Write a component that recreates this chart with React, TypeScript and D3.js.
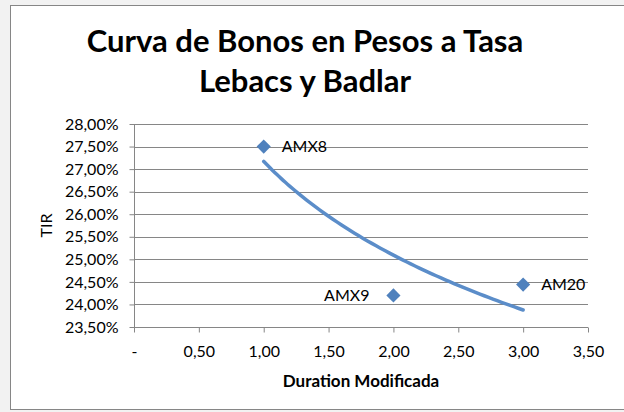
import { useRef, useEffect } from 'react'
import * as d3 from 'd3'

const bonds = ['AMX8', 'AMX9', 'AM20']
const duration = [1.0, 2.0, 3.0]
const tir = [27.5, 24.2, 24.44]
const labelSide = ['right', 'left', 'right']
const xTicks = [0, 0.5, 1, 1.5, 2, 2.5, 3, 3.5]
const yTicks = [23.5, 24, 24.5, 25, 25.5, 26, 26.5, 27, 27.5, 28]

const FONT = 'Lato, "Open Sans", sans-serif'
const BLUE = '#4f81bd'
const GRID = '#868686'

const fmt = (v: number, digits = 2) => v.toFixed(digits).replace('.', ',')

export default function App() {
  const ref = useRef<SVGSVGElement>(null)

  useEffect(() => {
    if (!ref.current) return
    const svg = d3.select(ref.current)
    svg.selectAll('*').remove()
    const width = 624
    const height = 412
    const m = { left: 134, right: 588, top: 124, bottom: 327 }

    svg.attr('width', width).attr('height', height)
    svg.append('rect').attr('width', width).attr('height', height).attr('fill', '#f2f2f2')
    svg.append('rect')
      .attr('x', 10.5).attr('y', 5.5)
      .attr('width', 640).attr('height', 404)
      .attr('fill', '#fff').attr('stroke', GRID).attr('stroke-width', 1)

    const x = d3.scaleLinear().domain([0, 3.5]).range([m.left, m.right])
    const y = d3.scaleLinear().domain([23.5, 28]).range([m.bottom, m.top])

    // title
    const title = svg.append('text')
      .attr('text-anchor', 'middle')
      .attr('font-family', FONT)
      .attr('font-weight', 'bold')
      .attr('font-size', 31)
      .attr('fill', '#000')
    title.append('tspan').attr('x', 305).attr('y', 52).text('Curva de Bonos en Pesos a Tasa')
    title.append('tspan').attr('x', 305).attr('y', 92).text('Lebacs y Badlar')

    // gridlines
    svg.append('g')
      .selectAll('line')
      .data(yTicks.slice(1))
      .enter()
      .append('line')
      .attr('x1', m.left).attr('x2', m.right)
      .attr('y1', d => Math.round(y(d)) + 0.5).attr('y2', d => Math.round(y(d)) + 0.5)
      .attr('stroke', GRID).attr('stroke-width', 1)

    // y axis
    const yAxis = svg.append('g')
      .attr('transform', `translate(${m.left + 0.5},0)`)
      .call(
        d3.axisLeft(y)
          .tickValues(yTicks)
          .tickSize(5)
          .tickPadding(11)
          .tickFormat(d => `${fmt(d as number)}%`)
      )
    yAxis.select('.domain').attr('stroke', GRID).attr('d', `M0,${m.top}V${m.bottom}`)
    yAxis.selectAll('.tick line').attr('stroke', GRID)
    yAxis.selectAll('.tick text')
      .attr('font-family', FONT).attr('font-size', 16).attr('fill', '#000')

    // x axis
    const xAxis = svg.append('g')
      .attr('transform', `translate(0,${m.bottom + 0.5})`)
      .call(
        d3.axisBottom(x)
          .tickValues(xTicks)
          .tickSize(5)
          .tickPadding(13)
          .tickFormat(d => ((d as number) === 0 ? '-' : fmt(d as number)))
      )
    xAxis.select('.domain').attr('stroke', GRID).attr('d', `M${m.left},0H${m.right}`)
    xAxis.selectAll('.tick line').attr('stroke', GRID)
    xAxis.selectAll('.tick text')
      .attr('font-family', FONT).attr('font-size', 16).attr('fill', '#000')

    // axis titles
    svg.append('text')
      .attr('x', (m.left + m.right) / 2).attr('y', 387)
      .attr('text-anchor', 'middle')
      .attr('font-family', FONT).attr('font-weight', 'bold').attr('font-size', 17)
      .text('Duration Modificada')
    svg.append('text')
      .attr('transform', `translate(52,${(m.top + m.bottom) / 2}) rotate(-90)`)
      .attr('text-anchor', 'middle')
      .attr('font-family', FONT).attr('font-size', 16)
      .text('TIR')

    // logarithmic trendline fitted to the points
    const lx = duration.map(Math.log)
    const mx = d3.mean(lx) as number
    const my = d3.mean(tir) as number
    const sxy = d3.sum(lx.map((v, i) => (v - mx) * (tir[i] - my)))
    const sxx = d3.sum(lx.map(v => (v - mx) ** 2))
    const b = sxy / sxx
    const a = my - b * mx
    const [x0, x1] = d3.extent(duration) as [number, number]
    const trendX = d3.range(0, 61).map(i => x0 + ((x1 - x0) * i) / 60)
    const line = d3.line<number>()
      .x(d => x(d))
      .y(d => y(a + b * Math.log(d)))
      .curve(d3.curveMonotoneX)
    svg.append('path')
      .attr('d', line(trendX))
      .attr('fill', 'none')
      .attr('stroke', '#5b8dc9')
      .attr('stroke-width', 3.5)
      .attr('stroke-linecap', 'round')

    // markers
    const sym = d3.symbol().type(d3.symbolSquare).size(100)
    const pts = svg.append('g')
      .selectAll('g')
      .data(bonds.map((name, i) => ({ name, dx: duration[i], v: tir[i], side: labelSide[i] })))
      .enter()
      .append('g')
      .attr('transform', d => `translate(${x(d.dx)},${y(d.v)})`)
    pts.append('path')
      .attr('d', sym)
      .attr('fill', BLUE)
      .attr('transform', 'rotate(45)')
    pts.append('text')
      .attr('x', d => (d.side === 'right' ? 18 : -24))
      .attr('dy', '0.35em')
      .attr('text-anchor', d => (d.side === 'right' ? 'start' : 'end'))
      .attr('font-family', FONT).attr('font-size', 16)
      .text(d => d.name)
  }, [])

  return (
    <svg
      ref={ref}
      width={624}
      height={412}
      style={{ position: 'absolute', left: 0, top: 0 }}
    />
  )
}
